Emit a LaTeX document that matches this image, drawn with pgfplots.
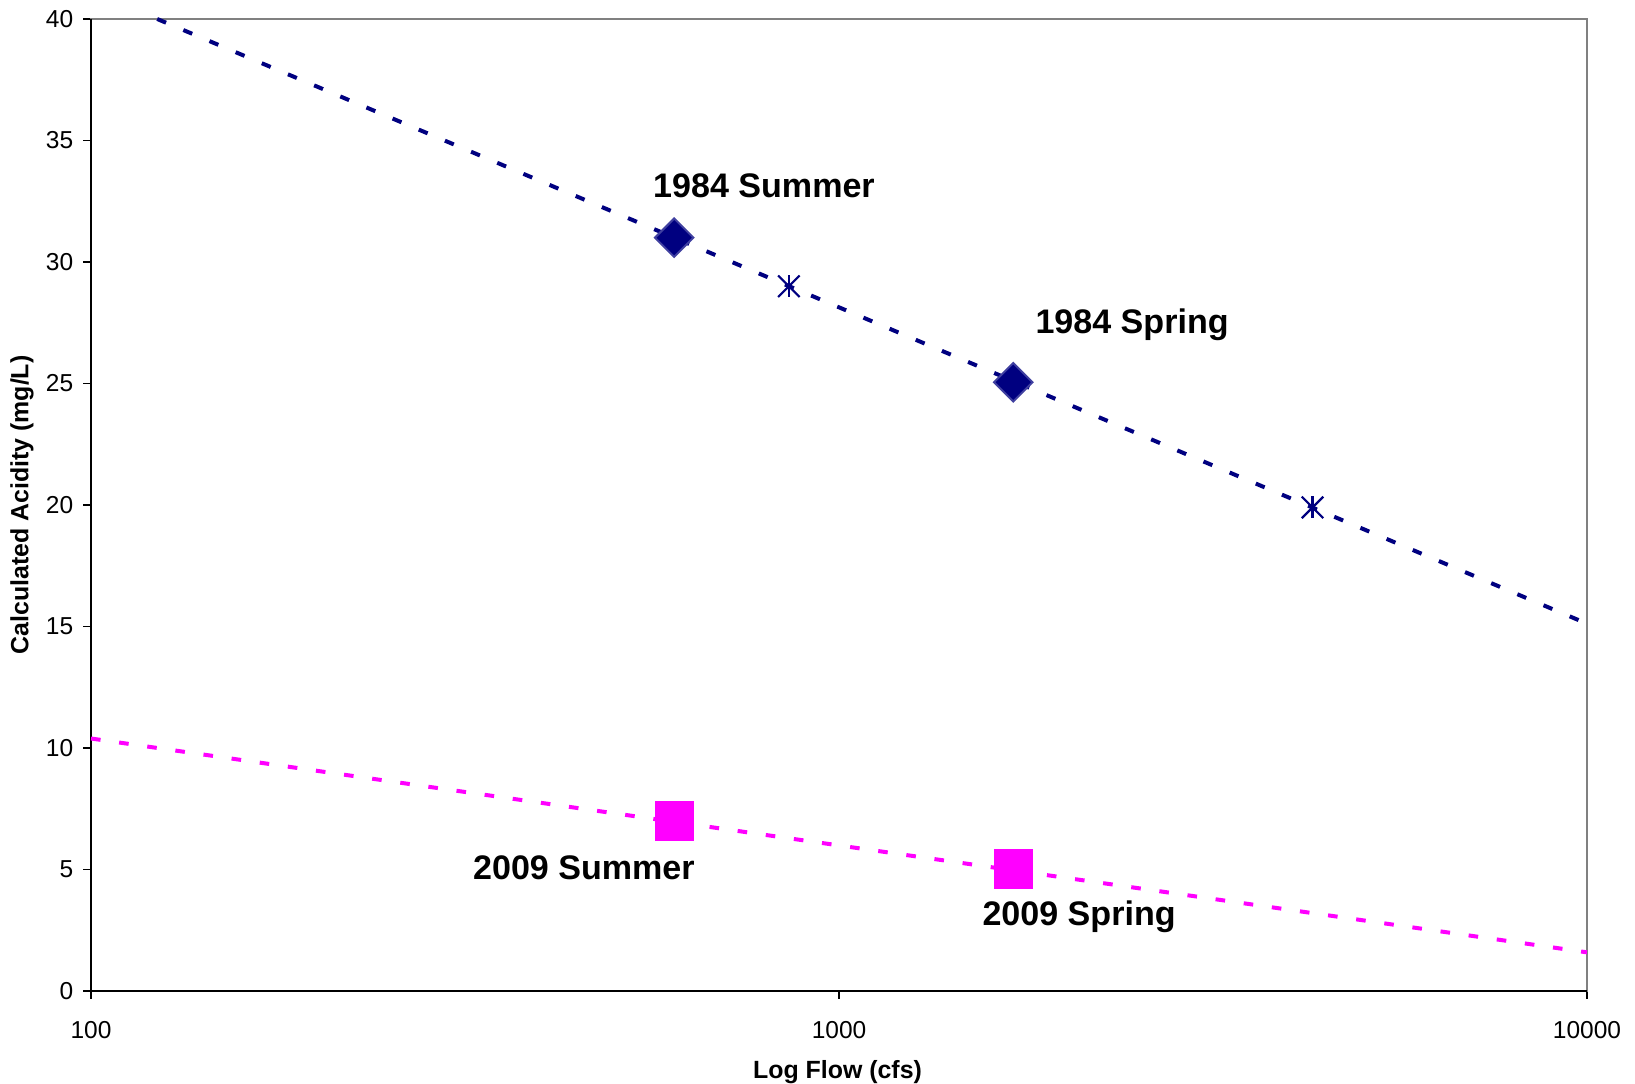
\documentclass[border=0pt]{standalone}
\usepackage{pgfplots}
\pgfplotsset{compat=1.18}
\usepackage{fontspec}
\setmainfont{Liberation Sans}
\definecolor{navyc}{RGB}{0,0,128}
\definecolor{magc}{RGB}{255,0,255}
\begin{document}
\begin{tikzpicture}
\begin{axis}[
  name=ax,
  scale only axis,
  width=748bp, height=486bp,
  xmode=log, log basis x=10,
  xmin=100, xmax=10000,
  ymin=0, ymax=40,
  xtick={100,1000,10000},
  xticklabels={100,1000,10000},
  ytick={0,5,...,40},
  minor xtick={},
  log ticks with fixed point,
  tick align=outside,
  major tick length=4bp,
  tick style={black, line width=0.6bp},
  xtick pos=bottom, ytick pos=left,
  axis line style={draw=gray, line width=0.9bp},
  /pgf/number format/assume math mode=true,
  ticklabel style={font=\fontsize{12.3}{14}\selectfont},
  xticklabel style={anchor=north, yshift=-7.6bp},
  yticklabel style={anchor=east, xshift=-1.4bp},
  xlabel={\bfseries Log Flow (cfs)},
  ylabel={\bfseries Calculated Acidity (mg/L)},
  label style={font=\fontsize{12.5}{14}\selectfont},
  xlabel style={at={(axis description cs:0.499,-0.0833)}, anchor=center},
  ylabel style={at={(axis description cs:-0.0461,0.5)}, anchor=center},
  clip=false,
]
\draw[black, line width=0.9bp] (rel axis cs:0,1) -- (rel axis cs:0,0) -- (rel axis cs:1,0);
% trend lines
\addplot[navyc, line width=2bp, dash pattern=on 4.8bp off 9.4bp, no marks] coordinates {(122.6,40) (9800,15.23)};
\addplot[magc, line width=2bp, dash pattern=on 4.8bp off 9.4bp, no marks] coordinates {(100,10.39) (10000,1.59)};
% 1984 points
\addplot[only marks, mark=square*, mark size=6.8bp, mark options={rotate=45, fill=navyc, draw=navyc!75!white, line width=1bp}] coordinates {(602,31) (1710,25.05)};
% forecast asterisks
\addplot[only marks, mark=x, mark size=7.6bp, mark options={draw=navyc, line width=1.1bp}] coordinates {(857,29) (4296,19.9)};
\addplot[only marks, mark=|, mark size=5.5bp, mark options={draw=navyc, line width=1.1bp}] coordinates {(857,29) (4296,19.9)};
% 2009 points
\addplot[only marks, mark=square*, mark size=9.6bp, mark options={fill=magc, draw=magc}] coordinates {(602,7) (1710,5.02)};
% labels
\node[font=\bfseries\fontsize{17.1}{20}\selectfont] at (axis cs:794,33.13) {1984 Summer};
\node[font=\bfseries\fontsize{17.1}{20}\selectfont] at (axis cs:2465,27.4) {1984 Spring};
\node[font=\bfseries\fontsize{17.1}{20}\selectfont] at (axis cs:456,5.06) {2009 Summer};
\node[font=\bfseries\fontsize{17.1}{20}\selectfont] at (axis cs:2094,3.05) {2009 Spring};
\end{axis}
\pgfresetboundingbox
\path (ax.south west) ++(-45.5bp,-46.5bp) coordinate (bl);
\path (ax.north east) ++(24bp,9.5bp) coordinate (tr);
\path[use as bounding box] (bl) rectangle (tr);
\end{tikzpicture}
\end{document}
